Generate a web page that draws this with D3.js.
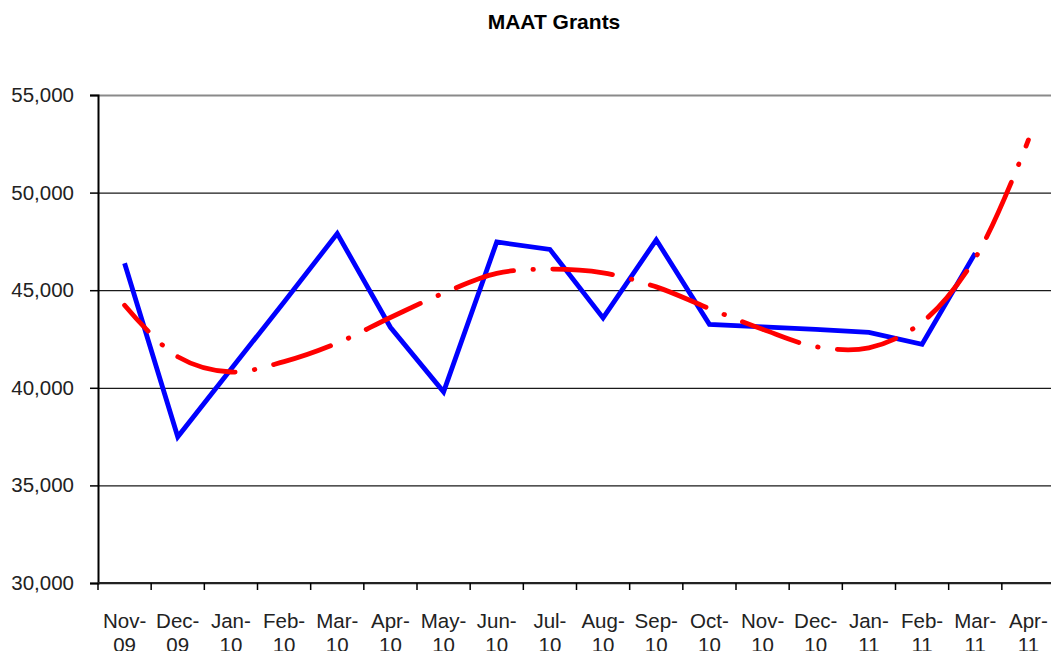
<!DOCTYPE html>
<html>
<head>
<meta charset="utf-8">
<script src="https://cdn.jsdelivr.net/npm/d3@7"></script>
<style>
  body { margin: 0; background: #fff; }
  text { font-family: 'Liberation Sans', Arial, sans-serif; }
</style>
</head>
<body>
<div id="wrapper"></div>
<script>
// months on the category axis, trend runs one month further than the data
const months = ['Nov-09', 'Dec-09', 'Jan-10', 'Feb-10', 'Mar-10', 'Apr-10', 'May-10', 'Jun-10', 'Jul-10',
    'Aug-10', 'Sep-10', 'Oct-10', 'Nov-10', 'Dec-10', 'Jan-11', 'Feb-11', 'Mar-11', 'Apr-11']
const grants = [46380, 37490, 40950, 44400, 47900, 43100, 39790, 47470, 47090,
    43580, 47580, 43250, 43120, 42990, 42840, 42230, 46900]
const trend = [44230, 41590, 40810, 41340, 42290, 43600, 44850, 45860, 46080,
    45890, 45170, 44060, 43000, 42110, 42050, 43360, 46650, 52700]
const yTicks = [30000, 35000, 40000, 45000, 50000, 55000]

const drawChart = () => {
    const dimensions = {
        width: 1051,
        height: 651,
        margin: {
            top: 95,
            right: -4,
            bottom: 68,
            left: 98,
        }
    }
    dimensions.boundedWidth = dimensions.width - dimensions.margin.left - dimensions.margin.right
    dimensions.boundedHeight = dimensions.height - dimensions.margin.top - dimensions.margin.bottom

    const wrapper = d3.select('#wrapper')
        .append('svg')
        .attr('width', dimensions.width)
        .attr('height', dimensions.height)
        .style('display', 'block')

    wrapper.append('text')
        .text('MAAT Grants')
        .attr('x', 554)
        .attr('y', 29)
        .attr('text-anchor', 'middle')
        .style('font-size', '21px')
        .style('font-weight', 'bold')

    const bounds = wrapper.append('g')
        .attr('transform', `translate(${dimensions.margin.left}, ${dimensions.margin.top})`)

    const scaleX = d3.scaleBand()
        .domain(months)
        .range([0, dimensions.boundedWidth])

    const scaleY = d3.scaleLinear()
        .domain([30000, 55000])
        .range([dimensions.boundedHeight, 0])

    const centerX = (m) => scaleX(m) + scaleX.bandwidth() / 2

    // gridlines
    const grid = bounds.append('g')
        .call(d3.axisLeft(scaleY).tickValues(yTicks).tickSize(-dimensions.boundedWidth).tickFormat(''))
    grid.select('.domain').remove()
    grid.selectAll('.tick line')
        .attr('stroke', (d) => d === 55000 ? '#8a8a8a' : '#1a1a1a')
        .attr('stroke-width', (d) => d === 55000 ? 2 : 1.3)

    // y axis
    const yAxis = bounds.append('g')
        .call(d3.axisLeft(scaleY).tickValues(yTicks).tickSize(8).tickPadding(16).tickFormat(d3.format(',')))
    yAxis.select('.domain').attr('stroke', '#000').attr('stroke-width', 2)
    yAxis.selectAll('.tick line').attr('stroke', '#000').attr('stroke-width', 1.5)
    yAxis.selectAll('.tick text')
        .attr('fill', '#222')
        .style('font-size', '20.5px')
        .style('font-family', "'Liberation Sans', Arial, sans-serif")

    // x axis: ticks between categories
    const xAxis = bounds.append('g')
        .attr('transform', `translate(0, ${dimensions.boundedHeight})`)
    xAxis.append('line')
        .attr('x1', 0)
        .attr('x2', dimensions.boundedWidth)
        .attr('stroke', '#222')
        .attr('stroke-width', 2)
    xAxis.selectAll('.xtick')
        .data(months)
        .join('line')
        .attr('class', 'xtick')
        .attr('x1', (d) => scaleX(d))
        .attr('x2', (d) => scaleX(d))
        .attr('y1', 0)
        .attr('y2', 7)
        .attr('stroke', '#000')
        .attr('stroke-width', 1.5)
    const xLabels = xAxis.selectAll('.xlabel')
        .data(months)
        .join('text')
        .attr('class', 'xlabel')
        .attr('text-anchor', 'middle')
        .attr('fill', '#222')
        .style('font-size', '20.5px')
    xLabels.append('tspan')
        .attr('x', (d) => centerX(d))
        .attr('y', 45)
        .text((d) => d.split('-')[0] + '-')
    xLabels.append('tspan')
        .attr('x', (d) => centerX(d))
        .attr('y', 69)
        .text((d) => d.split('-')[1])

    // data line
    const grantLine = d3.line()
        .x((d, i) => centerX(months[i]))
        .y((d) => scaleY(d))
    bounds.append('path')
        .datum(grants)
        .attr('d', grantLine)
        .attr('fill', 'none')
        .attr('stroke', '#0000ff')
        .attr('stroke-width', 4.8)
        .attr('stroke-linejoin', 'miter')

    // polynomial trend, dash-dot
    const trendLine = d3.line()
        .x((d, i) => centerX(months[i]))
        .y((d) => scaleY(d))
        .curve(d3.curveCatmullRom.alpha(0.5))
    const trendPath = bounds.append('path')
        .datum(trend)
        .attr('d', trendLine)
        .attr('fill', 'none')
        .attr('stroke', '#ff0000')
        .attr('stroke-width', 4.8)
        .attr('stroke-linecap', 'round')

    // fit the dash-dot period so the line starts mid-dash and ends on a short dash
    const len = trendPath.node().getTotalLength()
    const startPhase = 25
    const endPhase = 7
    const n = Math.round((len + startPhase - endPhase) / 102.5)
    const period = (len + startPhase - endPhase) / n
    const k = period / 102.5
    trendPath
        .attr('stroke-dasharray', [62 * k, 20 * k, 0.5, 20 * k - 0.5 * (1 - k)].join(','))
        .attr('stroke-dashoffset', startPhase)
}
drawChart()
</script>
</body>
</html>
